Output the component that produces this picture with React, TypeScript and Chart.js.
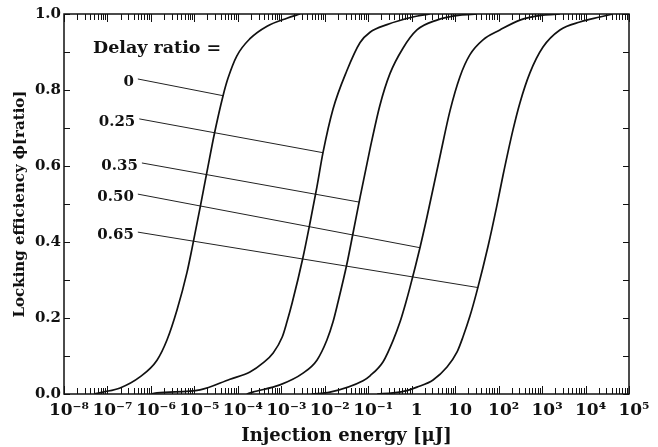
import React, { useEffect, useRef } from 'react';
import { Chart, registerables } from 'chart.js';

Chart.register(...registerables);

// ---- data ----
const DELAY_LABELS = ['0', '0.25', '0.35', '0.50', '0.65'];

const ENERGY_D0 = [5.0e-8, 7.9e-8, 1.95e-7, 5.6e-7, 1.38e-6, 2.34e-6, 3.98e-6, 6.76e-6, 8.9e-6, 1.35e-5, 1.95e-5, 2.95e-5, 4.57e-5, 5.9e-5, 9.5e-5, 1.9e-4, 4.7e-4, 1.35e-3, 2.7e-3];
const PHI_D0 = [0, 0.005, 0.016, 0.045, 0.089, 0.142, 0.221, 0.32, 0.385, 0.49, 0.585, 0.69, 0.785, 0.83, 0.89, 0.935, 0.968, 0.989, 1.0];

const ENERGY_D25 = [1e-6, 1.38e-6, 1.35e-5, 6.6e-5, 1.9e-4, 3.8e-4, 6.5e-4, 1.05e-3, 1.35e-3, 1.78e-3, 3.16e-3, 4.57e-3, 6.6e-3, 9.1e-3, 1.55e-2, 3.2e-2, 6.5e-2, 0.11, 0.27, 1.07, 2.6];
const PHI_D25 = [0, 0.003, 0.011, 0.039, 0.058, 0.082, 0.108, 0.15, 0.19, 0.24, 0.36, 0.45, 0.545, 0.635, 0.75, 0.85, 0.925, 0.952, 0.972, 0.992, 1.0];

const ENERGY_D35 = [1.6e-4, 2.2e-4, 9.3e-4, 3.16e-3, 6.6e-3, 1.12e-2, 1.55e-2, 2.0e-2, 3.2e-2, 4.5e-2, 6.5e-2, 0.11, 0.186, 0.316, 0.63, 1.32, 3.8, 12.9, 31.6];
const PHI_D35 = [0, 0.005, 0.024, 0.055, 0.089, 0.142, 0.19, 0.24, 0.34, 0.425, 0.518, 0.645, 0.76, 0.843, 0.91, 0.958, 0.984, 0.997, 1.0];

const ENERGY_D50 = [5e-3, 1.32e-2, 7.6e-2, 0.11, 0.22, 0.37, 0.54, 0.71, 0.91, 1.55, 2.24, 4.47, 7.6, 12.9, 21.9, 43.7, 107, 309, 1050, 2570];
const PHI_D50 = [0, 0.005, 0.035, 0.048, 0.085, 0.14, 0.19, 0.235, 0.28, 0.385, 0.465, 0.625, 0.745, 0.835, 0.893, 0.932, 0.958, 0.984, 0.997, 1.0];

const ENERGY_D65 = [0.16, 0.37, 0.78, 1.32, 3.1, 6.5, 11, 15.1, 21.9, 31.6, 57.5, 91, 126, 214, 309, 525, 1050, 2570, 7400, 21400, 42700];
const PHI_D65 = [0, 0.003, 0.009, 0.018, 0.037, 0.071, 0.11, 0.15, 0.205, 0.27, 0.39, 0.495, 0.575, 0.695, 0.766, 0.845, 0.913, 0.958, 0.979, 0.992, 1.0];

// leader lines from the delay-ratio labels to their curves
const LEADER_FROM_E = [5.0e-7, 5.4e-7, 6.2e-7, 5.0e-7, 5.0e-7];
const LEADER_FROM_PHI = [0.829, 0.724, 0.608, 0.526, 0.426];
const LEADER_TO_E = [4.57e-5, 9.1e-3, 6.2e-2, 1.55, 33.9];
const LEADER_TO_PHI = [0.785, 0.635, 0.505, 0.385, 0.28];

// axis ticks
const X_TICK_EXPONENTS = [-8, -7, -6, -5, -4, -3, -2, -1, 0, 1, 2, 3, 4, 5];
const X_TICK_LABELS = ['10⁻⁸', '10⁻⁷', '10⁻⁶', '10⁻⁵', '10⁻⁴', '10⁻³', '10⁻²', '10⁻¹', '1', '10', '10²', '10³', '10⁴', '10⁵'];
const Y_TICK_LABELS = ['0.0', '0.2', '0.4', '0.6', '0.8', '1.0'];

const FONT = "'DejaVu Serif', serif";

const CURVES = [
  [ENERGY_D0, PHI_D0],
  [ENERGY_D25, PHI_D25],
  [ENERGY_D35, PHI_D35],
  [ENERGY_D50, PHI_D50],
  [ENERGY_D65, PHI_D65],
];

const framePlugin = {
  id: 'frameTicks',
  afterDatasetsDraw(chart: any) {
    const { ctx, chartArea, scales } = chart;
    const { left, right, top, bottom } = chartArea;
    const x = scales.x;
    const y = scales.y;
    ctx.save();
    ctx.strokeStyle = '#111';
    ctx.lineWidth = 1.5;
    ctx.strokeRect(left, top, right - left, bottom - top);
    ctx.lineWidth = 1;
    ctx.beginPath();
    x.ticks.forEach((t: any) => {
      const px = Math.round(x.getPixelForValue(t.value)) + 0.5;
      const len = t.major ? 8 : 6;
      ctx.moveTo(px, bottom);
      ctx.lineTo(px, bottom - len);
      ctx.moveTo(px, top);
      ctx.lineTo(px, top + len);
    });
    y.ticks.forEach((t: any) => {
      const py = Math.round(y.getPixelForValue(t.value)) + 0.5;
      ctx.moveTo(left, py);
      ctx.lineTo(left + 6, py);
      ctx.moveTo(right, py);
      ctx.lineTo(right - 6, py);
    });
    ctx.stroke();

    // delay ratio labels
    ctx.fillStyle = '#111';
    ctx.font = `bold 17.5px ${FONT}`;
    ctx.textBaseline = 'middle';
    ctx.textAlign = 'left';
    ctx.fillText('Delay ratio =', left + 29, top + 34);
    ctx.font = `bold 15px ${FONT}`;
    ctx.textAlign = 'right';
    DELAY_LABELS.forEach((lab, i) => {
      const px = x.getPixelForValue(LEADER_FROM_E[i]) - 4;
      const py = y.getPixelForValue(LEADER_FROM_PHI[i]) + 3;
      ctx.fillText(lab, px, py);
    });
    ctx.restore();
  },
};

export default function App() {
  const ref = useRef<HTMLCanvasElement | null>(null);

  useEffect(() => {
    if (!ref.current) return;
    const datasets: any[] = [];
    CURVES.forEach(([es, ps], i) => {
      datasets.push({
        label: 'Delay ' + DELAY_LABELS[i],
        data: es.map((e, k) => ({ x: e, y: ps[k] })),
        showLine: true,
        borderColor: '#111',
        borderWidth: 1.7,
        pointRadius: 0,
        cubicInterpolationMode: 'monotone',
      });
    });
    DELAY_LABELS.forEach((lab, i) => {
      datasets.push({
        label: 'Leader ' + lab,
        data: [
          { x: LEADER_FROM_E[i], y: LEADER_FROM_PHI[i] },
          { x: LEADER_TO_E[i], y: LEADER_TO_PHI[i] },
        ],
        showLine: true,
        borderColor: '#222',
        borderWidth: 1,
        pointRadius: 0,
      });
    });

    const chart = new Chart(ref.current, {
      type: 'scatter',
      data: { datasets },
      plugins: [framePlugin],
      options: {
        animation: false,
        responsive: false,
        layout: { padding: { left: 0, right: 29, top: 14, bottom: 0 } },
        plugins: { legend: { display: false }, tooltip: { enabled: false } },
        scales: {
          x: {
            type: 'logarithmic',
            min: 1e-8,
            max: 1e5,
            grid: { display: false, drawTicks: false },
            border: { display: false },
            afterBuildTicks: (scale: any) => {
              const ticks: any[] = [];
              X_TICK_EXPONENTS.forEach((ex, idx) => {
                ticks.push({ value: Math.pow(10, ex), major: true });
                if (idx < X_TICK_EXPONENTS.length - 1) {
                  for (let k = 2; k <= 9; k++) ticks.push({ value: k * Math.pow(10, ex), major: false });
                }
              });
              scale.ticks = ticks;
            },
            afterFit: (scale: any) => {
              scale.height = 53;
            },
            ticks: {
              autoSkip: false,
              maxRotation: 0,
              minRotation: 0,
              padding: 6,
              labelOffset: 5,
              color: '#111',
              font: { family: FONT, size: 17, weight: 'bold' },
              callback: (value: any) => {
                const v = Number(value);
                const ex = Math.round(Math.log10(v));
                if (Math.abs(v / Math.pow(10, ex) - 1) > 1e-6) return '';
                const idx = X_TICK_EXPONENTS.indexOf(ex);
                return idx >= 0 ? X_TICK_LABELS[idx] : '';
              },
            },
            title: {
              display: true,
              text: 'Injection energy [μJ]',
              color: '#111',
              font: { family: FONT, size: 18, weight: 'bold' },
              padding: { top: 0, bottom: 0 },
            },
          },
          y: {
            min: 0,
            max: 1,
            grid: { display: false, drawTicks: false },
            border: { display: false },
            afterFit: (scale: any) => {
              scale.width = 64;
            },
            ticks: {
              stepSize: 0.1,
              padding: 3,
              color: '#111',
              font: { family: FONT, size: 15, weight: 'bold' },
              callback: (value: any) => {
                const n = Math.round(Number(value) * 10);
                return n % 2 === 0 ? Y_TICK_LABELS[n / 2] : '';
              },
            },
            title: {
              display: true,
              text: 'Locking efficiency ϕ[ratio]',
              color: '#111',
              font: { family: FONT, size: 15, weight: 'bold' },
              padding: { top: 11, bottom: 0 },
            },
          },
        },
      } as any,
    });
    return () => chart.destroy();
  }, []);

  return (
    <div style={{ position: 'fixed', left: 0, top: 0, width: 658, height: 447, background: '#fff' }}>
      <canvas ref={ref} width={658} height={447} style={{ display: 'block' }} />
    </div>
  );
}
